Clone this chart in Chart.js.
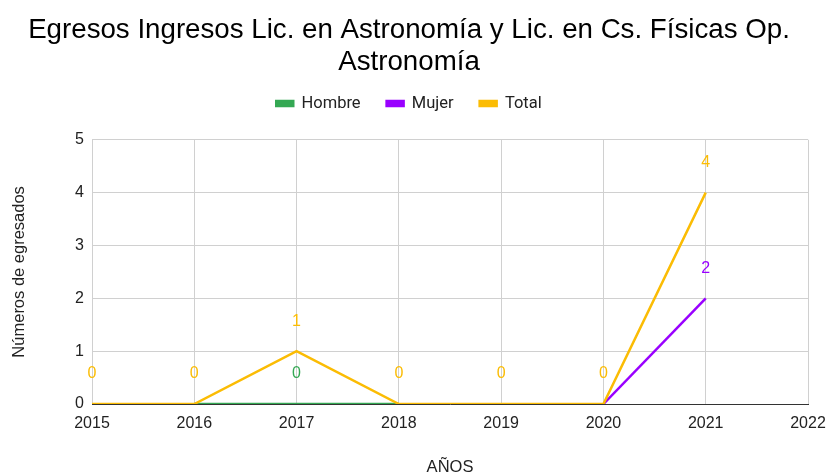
<!DOCTYPE html>
<html>
<head>
<meta charset="utf-8">
<script src="https://cdn.jsdelivr.net/npm/chart.js@4/dist/chart.umd.min.js"></script>
<style>
  html, body { margin: 0; padding: 0; background: #fff; }
  #wrap { width: 828px; height: 475px; }
</style>
</head>
<body>
<div id="wrap"><canvas id="chart" width="828" height="475"></canvas></div>
<script>
// datos
const years = [2015, 2016, 2017, 2018, 2019, 2020, 2021];
const hombreYears = [2016, 2017, 2018];
const hombre = [0, 0, 0];
const mujerYears = [2020, 2021];
const mujer = [0, 2];
const total = [0, 0, 1, 0, 0, 0, 4];
// qué puntos llevan etiqueta de valor
const hombreLabels = [false, true, false];
const mujerLabels = [false, true];
const totalLabels = [true, true, true, true, true, true, true];

const xTicks = [2015, 2016, 2017, 2018, 2019, 2020, 2021, 2022];
const yTicks = [0, 1, 2, 3, 4, 5];

const FONT = '"Liberation Sans", Arial, sans-serif';
const LFONT = 'Roboto, Arial, sans-serif';

function pts(xs, ys) {
  return xs.map((x, i) => ({ x: x, y: ys[i] }));
}

// etiquetas encima de los puntos
const valueLabels = {
  id: 'valueLabels',
  afterDatasetsDraw(chart) {
    const ctx = chart.ctx;
    ctx.save();
    ctx.font = '16px ' + FONT;
    ctx.textAlign = 'center';
    ctx.textBaseline = 'middle';
    chart.data.datasets.forEach((ds, i) => {
      const meta = chart.getDatasetMeta(i);
      meta.data.forEach((p, j) => {
        if (!ds.showLabel[j]) return;
        ctx.fillStyle = ds.borderColor;
        ctx.fillText(String(ds.data[j].y), p.x, p.y - 30);
      });
    });
    ctx.restore();
  }
};

// más espacio debajo de la leyenda
const legendGap = {
  id: 'legendGap',
  beforeInit(chart) {
    const fit = chart.legend.fit;
    chart.legend.fit = function () {
      fit.bind(chart.legend)();
      this.height += 18;
    };
  }
};

new Chart(document.getElementById('chart'), {
  type: 'line',
  data: {
    datasets: [
      { label: 'Hombre', data: pts(hombreYears, hombre), showLabel: hombreLabels,
        borderColor: '#34a853', backgroundColor: '#34a853', order: 2 },
      { label: 'Mujer', data: pts(mujerYears, mujer), showLabel: mujerLabels,
        borderColor: '#9900ff', backgroundColor: '#9900ff', order: 1 },
      { label: 'Total', data: pts(years, total), showLabel: totalLabels,
        borderColor: '#fbbc04', backgroundColor: '#fbbc04', order: 0 }
    ]
  },
  options: {
    responsive: false,
    animation: false,
    layout: { padding: { left: 0, right: 10, top: 0, bottom: 0 } },
    elements: {
      line: { borderWidth: 2.5, tension: 0 },
      point: { radius: 0 }
    },
    plugins: {
      title: {
        display: true,
        text: ['Egresos Ingresos Lic. en Astronomía y Lic. en Cs. Físicas Op.', 'Astronomía'],
        color: '#000',
        font: { family: FONT, size: 27.7, weight: 'normal', lineHeight: 1.16 },
        padding: { top: 14, bottom: -9 }
      },
      legend: {
        labels: {
          color: '#222',
          font: { family: LFONT, size: 16.5 },
          boxWidth: 17,
          boxHeight: 5,
          padding: 26,
          sort: (a, b) => a.datasetIndex - b.datasetIndex
        }
      },
      tooltip: { enabled: false }
    },
    scales: {
      x: {
        type: 'linear',
        min: 2015,
        max: 2022,
        afterBuildTicks: s => { s.ticks = xTicks.map(v => ({ value: v })); },
        ticks: { color: '#222', font: { family: FONT, size: 16 },
                 padding: 10, maxRotation: 0, callback: v => String(v) },
        grid: { color: '#d0d0d0', drawTicks: false },
        border: { color: '#333', width: 1 },
        title: { display: true, text: 'AÑOS', color: '#222',
                 font: { family: FONT, size: 16.5 }, padding: { top: 0, bottom: -2 } },
        afterFit: s => { s.height = 71; s.paddingRight = 20; }
      },
      y: {
        min: 0,
        max: 5,
        afterBuildTicks: s => { s.ticks = yTicks.map(v => ({ value: v })); },
        ticks: { color: '#222', font: { family: FONT, size: 16 }, padding: 8 },
        grid: { color: '#d0d0d0', drawTicks: false },
        border: { display: false },
        title: { display: true, text: 'Números de egresados', color: '#222',
                 font: { family: FONT, size: 16.5 }, padding: { top: 10, bottom: 18 } },
        afterFit: s => { s.width = 92; }
      }
    }
  },
  plugins: [valueLabels, legendGap]
});
</script>
</body>
</html>
